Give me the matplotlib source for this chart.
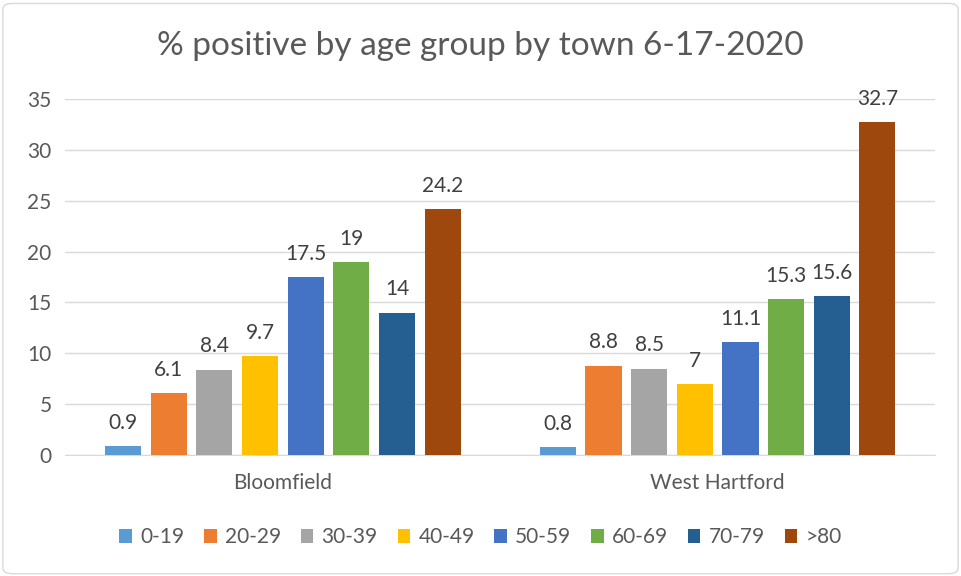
import matplotlib
matplotlib.use('Agg')
import matplotlib.pyplot as plt
import numpy as np
from matplotlib.patches import FancyBboxPatch

towns = ['Bloomfield', 'West Hartford']
age_groups = ['0-19', '20-29', '30-39', '40-49', '50-59', '60-69', '70-79', '>80']
bloomfield = [0.9, 6.1, 8.4, 9.7, 17.5, 19, 14, 24.2]
west_hartford = [0.8, 8.8, 8.5, 7, 11.1, 15.3, 15.6, 32.7]
colors = ['#5B9BD5', '#ED7D31', '#A5A5A5', '#FFC000',
          '#4472C4', '#70AD47', '#255E91', '#9E480E']

plt.rcParams['font.family'] = ['Lato', 'DejaVu Sans']
text_color = '#595959'

fig = plt.figure(figsize=(9.61, 5.76), dpi=100)
fig.patches.append(FancyBboxPatch((0.003, 0.004), 0.994, 0.99,
                                  boxstyle='round,pad=0,rounding_size=0.01',
                                  transform=fig.transFigure, fill=False,
                                  edgecolor='#D9D9D9', linewidth=1))
ax = fig.add_axes([0.068, 0.21, 0.905, 0.618])

x = np.arange(len(towns))
spacing = 0.105
width = 0.083
for i, (grp, c) in enumerate(zip(age_groups, colors)):
    vals = [bloomfield[i], west_hartford[i]]
    pos = x + (i - 3.5) * spacing
    bars = ax.bar(pos, vals, width, color=c, label=grp, zorder=3)
    for b, v in zip(bars, vals):
        ax.text(b.get_x() + b.get_width() / 2, v + 1.3, f'{v:g}',
                ha='center', va='bottom', fontsize=15, color='#404040')

ax.set_xlim(-0.5, 1.5)
ax.set_ylim(0, 35)
ax.set_yticks(range(0, 36, 5))
ax.set_xticks(x)
ax.set_xticklabels(towns)
ax.yaxis.grid(True, color='#D9D9D9', linewidth=1, zorder=0)
for s in ['top', 'right', 'left']:
    ax.spines[s].set_visible(False)
ax.spines['bottom'].set_color('#D9D9D9')
ax.tick_params(axis='both', length=0, labelsize=15, colors=text_color, pad=10)
ax.tick_params(axis='x', pad=13)

fig.text(0.5, 0.92, '% positive by age group by town 6-17-2020',
         ha='center', va='center', fontsize=24, color=text_color)

handles, labels = ax.get_legend_handles_labels()
fig.legend(handles, labels, loc='center', bbox_to_anchor=(0.5, 0.067),
           ncol=8, frameon=False, fontsize=15, handlelength=0.6,
           handleheight=0.6, handletextpad=0.4, columnspacing=0.95,
           labelcolor=text_color)

fig.savefig('out.png', dpi=100)
